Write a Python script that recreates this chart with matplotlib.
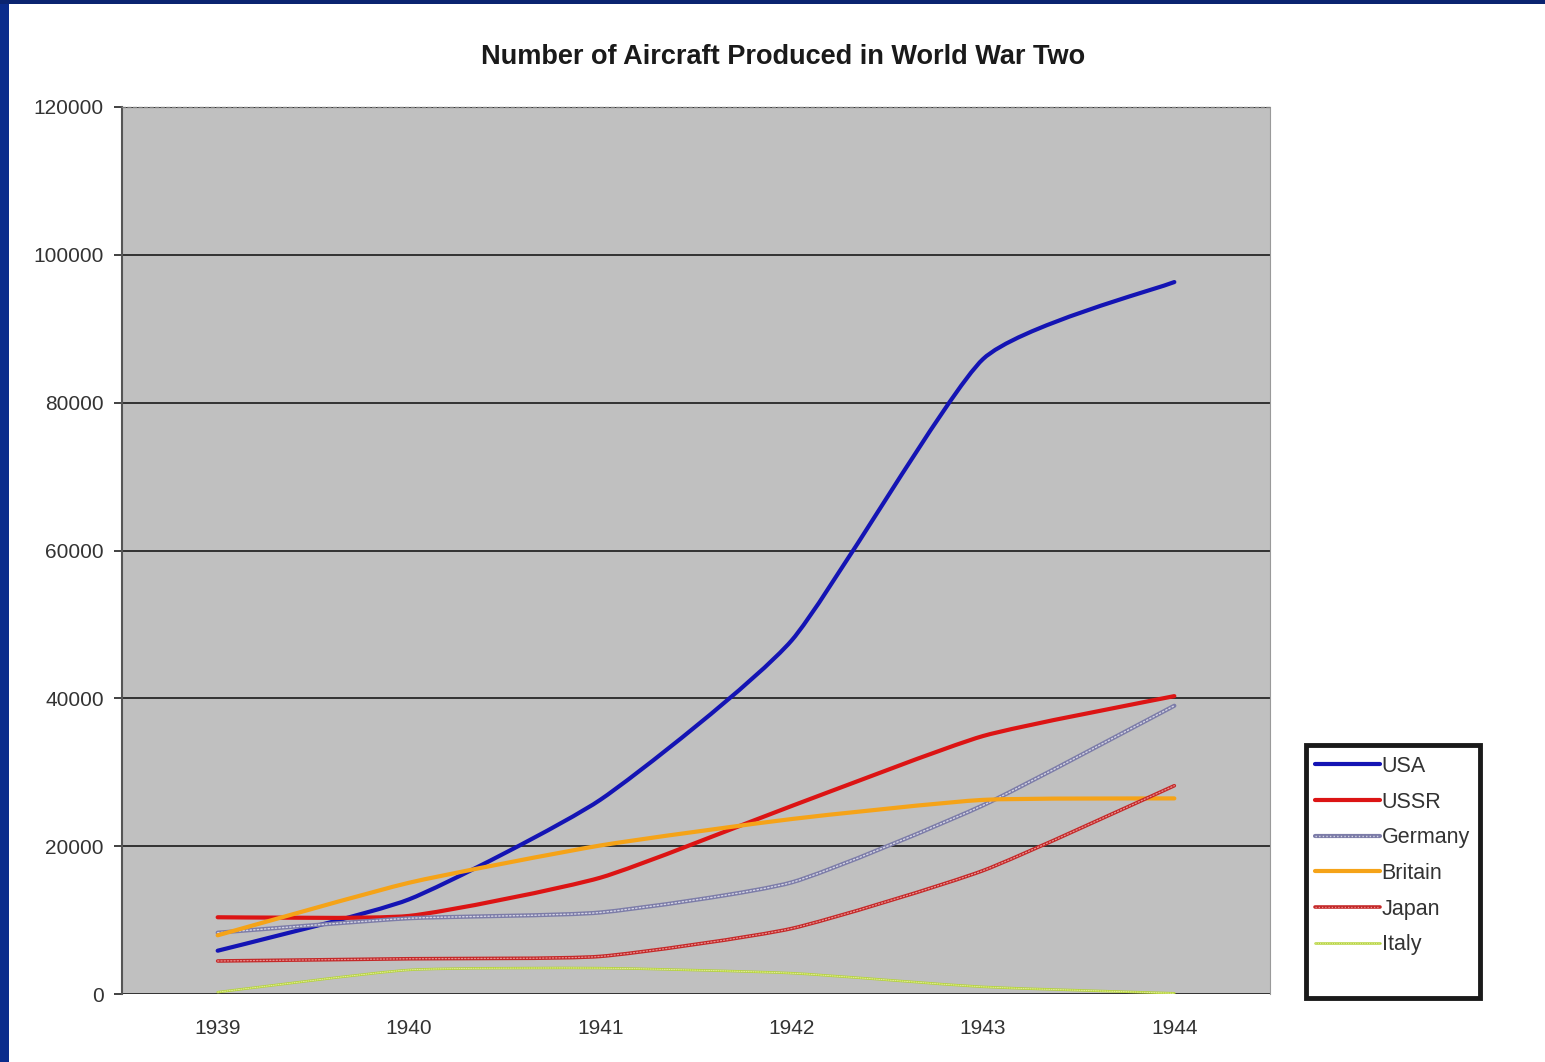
import numpy as np
import matplotlib
matplotlib.use('Agg')
import matplotlib.pyplot as plt
from matplotlib.path import Path
from matplotlib.patches import PathPatch, Rectangle
from matplotlib.lines import Line2D
from matplotlib.legend_handler import HandlerTuple

plt.rcParams['font.family'] = ['Liberation Sans', 'DejaVu Sans']

# data
years = ['1939', '1940', '1941', '1942', '1943', '1944']
usa = [5856, 12804, 26277, 47836, 85898, 96318]
ussr = [10382, 10565, 15735, 25436, 34900, 40300]
germany = [8295, 10247, 11030, 15100, 25527, 39000]
britain = [7940, 15049, 20094, 23672, 26263, 26461]
japan = [4467, 4768, 5088, 8861, 16693, 28180]
italy = [250, 3257, 3503, 2818, 967, 100]
y_ticks = [0, 20000, 40000, 60000, 80000, 100000, 120000]


def smooth_path(xs, ys, t=0.09):
    """Excel-like smoothed line: Catmull-Rom segments as cubic Beziers"""
    pts = np.column_stack([xs, ys]).astype(float)
    n = len(pts)
    verts = [pts[0]]
    codes = [Path.MOVETO]
    for i in range(n - 1):
        p0 = pts[i - 1] if i > 0 else pts[i]
        p1 = pts[i]
        p2 = pts[i + 1]
        p3 = pts[i + 2] if i + 2 < n else pts[i + 1]
        c1 = p1 + (p2 - p0) * t
        c2 = p2 - (p3 - p1) * t
        verts += [c1, c2, p2]
        codes += [Path.CURVE4] * 3
    return Path(verts, codes)


def draw_series(ax, values, layers):
    x = np.arange(len(values))
    path = smooth_path(x, values)
    for style in layers:
        ax.add_patch(PathPatch(path, fill=False, zorder=5, capstyle='round',
                               joinstyle='round', **style))


fig = plt.figure(figsize=(15.45, 10.62), dpi=100)
fig.patch.set_facecolor('white')

# blue slide frame (left and top strips)
fig.patches.append(Rectangle((0, 0), 9 / 1545, 1, transform=fig.transFigure,
                             facecolor='#0a2c8c', edgecolor='none', zorder=0))
fig.patches.append(Rectangle((0, 1 - 4 / 1062), 1, 4 / 1062, transform=fig.transFigure,
                             facecolor='#0a2470', edgecolor='none', zorder=0))

ax = fig.add_axes([122 / 1545, 68 / 1062, 1148 / 1545, 887 / 1062])
ax.set_facecolor('#c0c0c0')

series = [
    ('USA', usa, [dict(edgecolor='#1414b4', linewidth=3.0)]),
    ('USSR', ussr, [dict(edgecolor='#dc1414', linewidth=3.0)]),
    ('Germany', germany, [dict(edgecolor='#7c7ca8', linewidth=3.0),
                          dict(edgecolor='#d4d4e4', linewidth=1.0, linestyle=(0, (1, 1.6)))]),
    ('Britain', britain, [dict(edgecolor='#f5a318', linewidth=3.0)]),
    ('Japan', japan, [dict(edgecolor='#c42828', linewidth=2.6),
                      dict(edgecolor='#e89090', linewidth=0.9, linestyle=(0, (1, 1.6)))]),
    ('Italy', italy, [dict(edgecolor='#b4d23c', linewidth=1.8),
                      dict(edgecolor='#e6f09a', linewidth=0.7, linestyle=(0, (1, 1.4)))]),
]

handles = []
for name, vals, layers in series:
    draw_series(ax, vals, layers)
    proxy = []
    for st in layers:
        proxy.append(Line2D([], [], color=st['edgecolor'], linewidth=st['linewidth'],
                            linestyle=st.get('linestyle', '-'), solid_capstyle='round'))
    handles.append(tuple(proxy))

ax.set_xlim(-0.5, len(years) - 0.5)
ax.set_ylim(0, 120000)
ax.set_xticks(range(len(years)))
ax.set_xticklabels(years)
ax.set_yticks(y_ticks)
ax.set_yticklabels([str(v) for v in y_ticks])

ax.set_axisbelow(True)
ax.yaxis.grid(True, color='#1a1a1a', linewidth=1.2)
ax.xaxis.grid(False)

ax.spines['top'].set_color('#808080')
ax.spines['top'].set_linestyle((0, (2, 2)))
ax.spines['top'].set_linewidth(1.0)
ax.spines['right'].set_color('#9a9a9a')
ax.spines['right'].set_linewidth(0.8)
ax.spines['bottom'].set_visible(False)
ax.spines['left'].set_color('#555555')
ax.spines['left'].set_linewidth(1.5)

ax.tick_params(axis='y', labelsize=15, colors='#333333', length=6, width=1.3, pad=7,
               direction='out')
ax.tick_params(axis='x', labelsize=15, colors='#333333', length=0, pad=18)

fig.text(783 / 1545, 1 - 57 / 1062, 'Number of Aircraft Produced in World War Two',
         ha='center', va='center', fontsize=19.5, fontweight='bold', color='#1a1a1a')

# legend box drawn as its own frame
fig.patches.append(Rectangle((1306 / 1545, 64 / 1062), 174 / 1545, 253 / 1062,
                             transform=fig.transFigure, facecolor='white',
                             edgecolor='#1a1a1a', linewidth=3.5, zorder=1))
leg = fig.legend(handles, [s[0] for s in series], loc='upper left',
                 bbox_to_anchor=(1315 / 1545, 1 - 756 / 1062), frameon=False,
                 fontsize=15.5, handlelength=3.0, handletextpad=0.1, labelspacing=0.68,
                 borderpad=0, borderaxespad=0,
                 handler_map={tuple: HandlerTuple(ndivide=1, pad=0)})
for txt in leg.get_texts():
    txt.set_color('#333333')
leg.set_zorder(3)

fig.savefig('out.png', dpi=100)
